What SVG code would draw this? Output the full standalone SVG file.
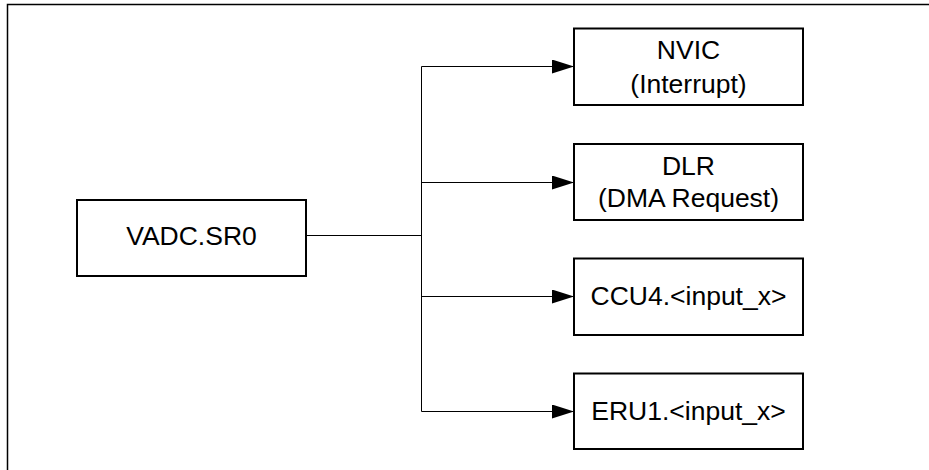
<svg xmlns="http://www.w3.org/2000/svg" width="929" height="470" viewBox="0 0 929 470">
<style>
.box{fill:#fff;stroke:#000;stroke-width:2}
.t{font-family:"Liberation Sans",Arial,sans-serif;font-size:26.5px;fill:#000;text-anchor:middle}
.c{fill:none;stroke:#000;stroke-width:1}
.frame{fill:none;stroke:#000;stroke-width:1.5}
</style>
<defs>
<marker id="ah" markerUnits="userSpaceOnUse" markerWidth="22" markerHeight="14" refX="22" refY="7" orient="auto">
<path d="M0,0 L22,7 L0,14 Z" fill="#000"/>
</marker>
</defs>
<rect width="929" height="470" fill="#fff"/>
<path class="frame" d="M7.5,470 V4.5 H929"/>
<g id="connectors">
<path class="c" d="M306,235.5 H421.5"/>
<path class="c" d="M421.5,66.5 V411.5"/>
<path class="c" d="M421.5,66.5 H574" marker-end="url(#ah)"/>
<path class="c" d="M421.5,182.5 H574" marker-end="url(#ah)"/>
<path class="c" d="M421.5,296.5 H574" marker-end="url(#ah)"/>
<path class="c" d="M421.5,411.5 H574" marker-end="url(#ah)"/>
</g>
<g id="vadc">
<rect class="box" x="77" y="200" width="229" height="76"/>
<text class="t" x="191.5" y="245">VADC.SR0</text>
</g>
<g id="nvic">
<rect class="box" x="574" y="28.5" width="229" height="76.5"/>
<text class="t" x="688.5" y="58.5">NVIC</text>
<text class="t" x="688.5" y="92.5">(Interrupt)</text>
</g>
<g id="dlr">
<rect class="box" x="574" y="144" width="229" height="76"/>
<text class="t" x="688.5" y="174.5">DLR</text>
<text class="t" x="688.5" y="206.5">(DMA Request)</text>
</g>
<g id="ccu4">
<rect class="box" x="574" y="258.5" width="229" height="76.5"/>
<text class="t" x="688.5" y="305">CCU4.&lt;input_x&gt;</text>
</g>
<g id="eru1">
<rect class="box" x="574" y="373.5" width="229" height="75.5"/>
<text class="t" x="688.5" y="420">ERU1.&lt;input_x&gt;</text>
</g>
</svg>
